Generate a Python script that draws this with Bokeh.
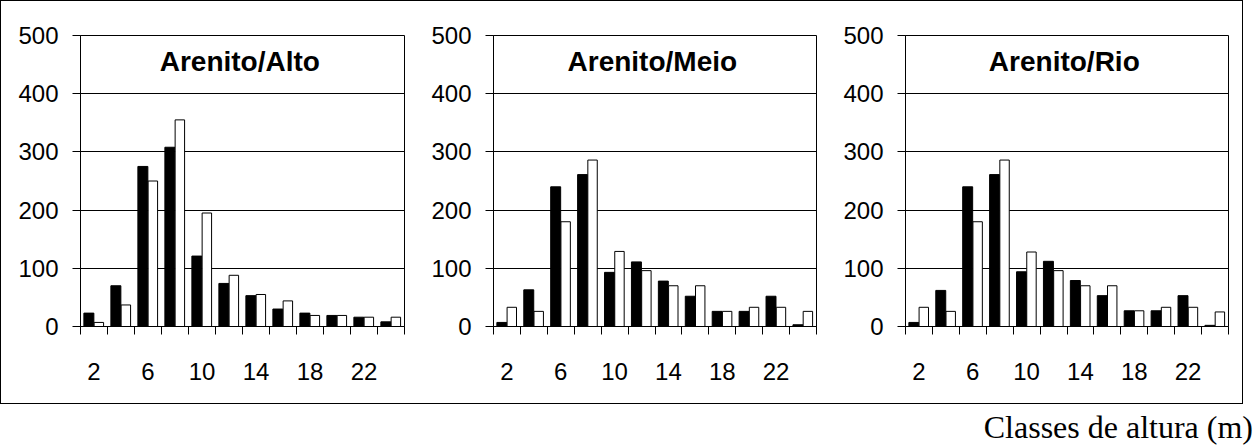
from bokeh.plotting import figure
from bokeh.layouts import row, column
from bokeh.models import FixedTicker, Div, Range1d, LinearAxis
from bokeh.embed import file_html
from bokeh.resources import INLINE
from bokeh.core.properties import value

# ---- data ----
classes = ["2", "4", "6", "8", "10", "12", "14", "16", "18", "20", "22", "24"]
label_classes = ["2", "6", "10", "14", "18", "22"]
panel_titles = ["Arenito/Alto", "Arenito/Meio", "Arenito/Rio"]
y_ticks = [0, 100, 200, 300, 400, 500]

alto_black = [23, 70, 275, 308, 121, 74, 53, 30, 23, 19, 16, 8]
alto_white = [7, 37, 250, 355, 195, 88, 55, 44, 19, 19, 16, 16]
meio_black = [7, 63, 240, 261, 93, 111, 78, 52, 26, 26, 52, 3]
meio_white = [33, 26, 180, 286, 129, 96, 70, 70, 26, 33, 33, 26]
rio_black = [7, 62, 240, 261, 94, 112, 79, 53, 27, 27, 53, 2]
rio_white = [33, 26, 180, 286, 128, 96, 70, 70, 27, 33, 33, 25]

caption = "Classes de altura (m)"

FONT = "Liberation Sans"


def make_panel(title, black, white, width, right_border):
    n = len(classes)
    p = figure(width=width, height=402,
               x_range=Range1d(0, n), y_range=Range1d(0, 500),
               output_backend="svg", toolbar_location=None,
               x_axis_location=None,
               min_border_left=79, min_border_right=right_border,
               min_border_top=34, min_border_bottom=77)
    p.background_fill_color = "white"
    p.border_fill_color = "white"
    p.outline_line_color = "black"
    p.outline_line_width = 1

    xb = [i + 0.31 for i in range(n)]
    xw = [i + 0.68 for i in range(n)]
    p.vbar(x=xb, top=black, bottom=0, width=0.37,
           fill_color="black", line_color="black", line_width=1)
    p.vbar(x=xw, top=white, bottom=0, width=0.35,
           fill_color="white", line_color="black", line_width=1)

    # grid
    p.xgrid.visible = False
    p.ygrid.ticker = FixedTicker(ticks=y_ticks)
    p.ygrid.grid_line_color = "black"
    p.ygrid.grid_line_width = 1

    # y axis
    p.yaxis.ticker = FixedTicker(ticks=y_ticks)
    p.yaxis.major_tick_out = 8
    p.yaxis.major_tick_in = 0
    p.yaxis.minor_tick_out = 0
    p.yaxis.minor_tick_in = 0
    p.yaxis.major_label_standoff = 14
    p.yaxis.axis_line_color = "black"
    p.yaxis.major_tick_line_color = "black"
    p.yaxis.major_label_text_font = FONT
    p.yaxis.major_label_text_font_size = "24px"
    p.yaxis.major_label_text_color = "black"

    # x axis 1: tick marks at class borders, no labels
    borders = list(range(n + 1))
    ax_ticks = LinearAxis(ticker=FixedTicker(ticks=borders),
                          major_label_overrides={b: "" for b in borders},
                          major_label_text_font_size="1px",
                          major_label_standoff=0,
                          major_tick_out=8, major_tick_in=0,
                          minor_tick_out=0, minor_tick_in=0,
                          axis_line_color="black",
                          major_tick_line_color="black")
    p.add_layout(ax_ticks, "below")

    # x axis 2: labels at centers of alternate classes
    label_pos = [classes.index(c) + 0.5 for c in label_classes]
    ax_labels = LinearAxis(ticker=FixedTicker(ticks=label_pos),
                           major_label_overrides={pos: lab for pos, lab in zip(label_pos, label_classes)},
                           major_tick_out=0, major_tick_in=0,
                           minor_tick_out=0, minor_tick_in=0,
                           axis_line_color=None,
                           major_tick_line_color=None,
                           minor_tick_line_color=None,
                           major_label_standoff=28,
                           major_label_text_font=FONT,
                           major_label_text_font_size="24px",
                           major_label_text_color="black")
    p.add_layout(ax_labels, "below")

    p.text(x=[n / 2 - 0.1], y=[455], text=[title],
           text_font=value(FONT), text_font_style="bold",
           text_font_size="28px", text_align="center",
           text_baseline="middle", text_color="black")
    return p


p1 = make_panel(panel_titles[0], alto_black, alto_white, 413, 10)
p2 = make_panel(panel_titles[1], meio_black, meio_white, 412, 10)
p3 = make_panel(panel_titles[2], rio_black, rio_white, 416, 14)

charts = row(p1, p2, p3, spacing=0,
             styles={"border": "1px solid black"})

cap = Div(text=caption, width=1248, height=34,
          styles={"font-family": "Liberation Serif", "font-size": "32px",
                  "text-align": "right", "line-height": "1", "color": "black",
                  "width": "1248px"})

layout = column(charts, cap, spacing=2)

open("out.html", "w").write(file_html(layout, INLINE))
